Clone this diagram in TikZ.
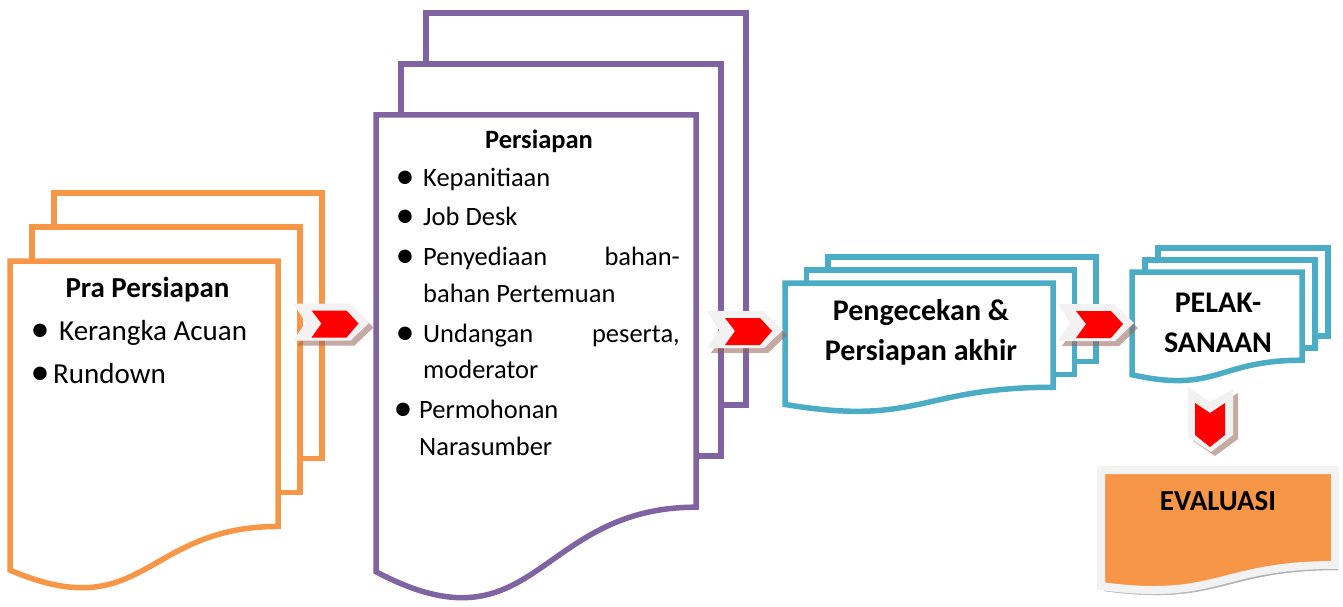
\documentclass[tikz,border=0pt]{standalone}
\usepackage{fontspec}
\setmainfont{Carlito}
\definecolor{sheetOrange}{HTML}{F79646}
\definecolor{sheetPurple}{HTML}{8064A2}
\definecolor{sheetBlue}{HTML}{4BACC6}
\definecolor{bevel}{HTML}{F2F2F2}
\definecolor{shade}{RGB}{150,100,90}
\definecolor{arrowRed}{HTML}{FF0000}

% Stack of three sheets: the front one is a document shape with a wavy bottom.
% #1 colour, #2 left, #3 top, #4 width, #5 height, #6 x-offset, #7 y-offset of each sheet behind
\newcommand\multidoc[7]{%
  \pgfmathsetmacro\mdxr{#2+#4}%
  \pgfmathsetmacro\mdxm{#2+#4/2}%
  \pgfmathsetmacro\mdyr{#3+0.802*#5}%
  \pgfmathsetmacro\mdyc{#3+1.107*#5}%
  \pgfmathsetmacro\mdyl{#3+0.934*#5}%
  \foreach \k in {2,1}{%
    \draw[sheet,#1] (#2+\k*#6, #3-\k*#7+#7) -- (#2+\k*#6, #3-\k*#7)
      -- (\mdxr+\k*#6, #3-\k*#7) -- (\mdxr+\k*#6, \mdyr-\k*#7)
      -- (\mdxr+\k*#6-#6, \mdyr-\k*#7);
  }%
  \draw[sheet,#1,fill=white] (#2,#3) -- (\mdxr,#3) -- (\mdxr,\mdyr)
    .. controls (\mdxm,\mdyr) and (\mdxm,\mdyc) .. (#2,\mdyl) -- cycle;
}

\begin{document}
\begin{tikzpicture}[x=1pt,y=-1pt,
  sheet/.style={line width=5.5pt, line join=miter},
  chevshadow/.style={fill=shade, fill opacity=0.55},
  big/.style={font=\fontsize{29}{38}\selectfont},
  mid/.style={font=\fontsize{26.5}{38}\selectfont},
  head/.style={font=\fontsize{29}{38}\selectfont\bfseries},
  headb/.style={font=\fontsize{30}{40}\selectfont\bfseries},
  bul/.style={font=\fontsize{38}{38}\selectfont, anchor=base, inner sep=0pt},
  txt/.style={anchor=base west, inner sep=0pt},
  txtr/.style={anchor=base east, inner sep=0pt},
  ctr/.style={anchor=base, inner sep=0pt},
  chevR/.pic={
    \fill[chevshadow] (-34,-13) -- (22,-13) -- (42,6) -- (23,24) -- (-34,24) -- (-22,6) -- cycle;
    \fill[bevel] (-38,-18) -- (18,-18) -- (38,1) -- (19,19) -- (-38,19) -- (-26,1) -- cycle;
    \fill[arrowRed] (-20,-11) -- (15,-11) -- (27,2) -- (15,16) -- (-20,16) -- (-10,2) -- cycle;
  }
]
\useasboundingbox (0,0) rectangle (1343,607);

% sheet stacks
\multidoc{sheetOrange}{10}{261}{268}{331}{22}{34}
\multidoc{sheetPurple}{376}{115}{320}{489}{25}{51}
\multidoc{sheetBlue}{785}{283}{268}{130}{21.5}{13}
\multidoc{sheetBlue}{1132}{272}{170}{110}{13}{12}

% evaluation sheet
\fill[shade, fill opacity=0.55] (1104,475) -- (1338,475) -- (1338,570)
  .. controls (1221,570) and (1221,607) .. (1104,591) -- cycle;
\draw[line width=8pt, bevel, fill=sheetOrange] (1101,470) -- (1335,470) -- (1335,565)
  .. controls (1218,565) and (1218,602) .. (1101,586) -- cycle;

% process arrows
\pic at (331.5,321.5) {chevR};
\pic at (745,329) {chevR};
\pic at (1096,322) {chevR};
\fill[chevshadow] (1193,391) -- (1215,406) -- (1238,393) -- (1238,439) -- (1215,456) -- (1193,441) -- cycle;
\fill[bevel] (1188,387) -- (1210,402) -- (1233,389) -- (1233,435) -- (1211,452) -- (1188,437) -- cycle;
\fill[arrowRed] (1195,403) -- (1210,413) -- (1225,403) -- (1225,435) -- (1210,447) -- (1195,435) -- cycle;

% texts: preparation stage
\node[head,ctr] (praT) at (147.5,297) {Pra Persiapan};
\node[bul] (praB1) at (40,341) {•};
\node[big,txt] (praI1) at (59,340) {Kerangka Acuan};
\node[bul] (praB2) at (40,384) {•};
\node[big,txt] (praI2) at (53,383) {Rundown};

% texts: preparation
\node[mid,ctr,font=\fontsize{26.5}{38}\selectfont\bfseries] (perT) at (539,148) {Persiapan};
\node[bul] (perB1) at (405,188) {•};
\node[mid,txt] (perI1) at (423,186) {Kepanitiaan};
\node[bul] (perB2) at (405,227) {•};
\node[mid,txt] (perI2) at (423,225) {Job Desk};
\node[bul] (perB3) at (405,267) {•};
\node[mid,txt] (perI3a) at (423,265) {Penyediaan};
\node[mid,txtr] (perI3b) at (680,265) {bahan-};
\node[mid,txt] (perI3c) at (423,302) {bahan Pertemuan};
\node[bul] (perB4) at (405,344) {•};
\node[mid,txt] (perI4a) at (423,342) {Undangan};
\node[mid,txtr] (perI4b) at (680,342) {peserta,};
\node[mid,txt] (perI4c) at (423,378) {moderator};
\node[bul] (perB5) at (403,420) {•};
\node[mid,txt] (perI5a) at (419,418) {Permohonan};
\node[mid,txt] (perI5b) at (419,455) {Narasumber};

% texts: final check, execution, evaluation
\node[headb,ctr] (cekT1) at (921,320) {Pengecekan \&};
\node[headb,ctr] (cekT2) at (921,360) {Persiapan akhir};
\node[headb,ctr] (pelT1) at (1218,312) {PELAK-};
\node[headb,ctr] (pelT2) at (1218,352) {SANAAN};
\node[head,ctr] (evaT) at (1218,510) {EVALUASI};
\end{tikzpicture}
\end{document}
